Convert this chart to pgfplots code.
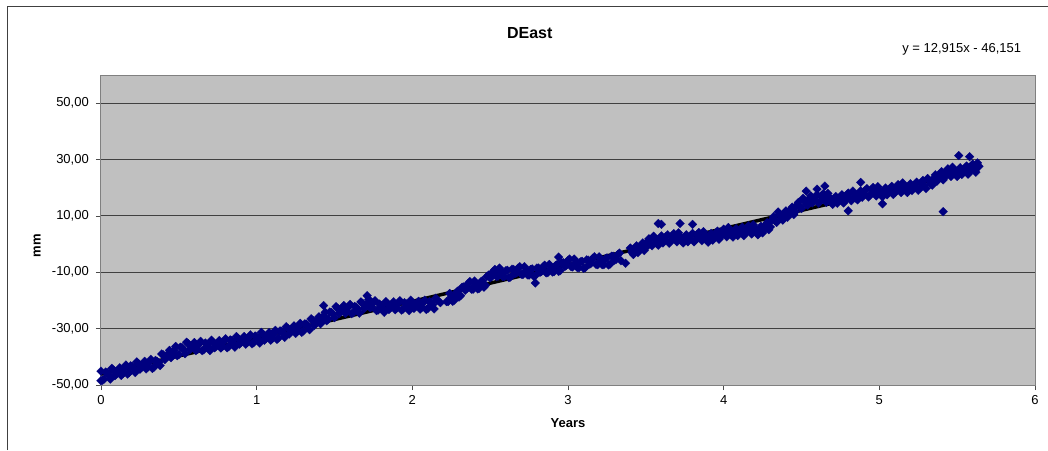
\documentclass[border=0pt]{standalone}
\usepackage{pgfplots}
\pgfplotsset{compat=1.18}
\usepackage{fontspec}
\setmainfont{Liberation Sans}
\definecolor{navy}{RGB}{0,0,128}
\definecolor{plotbg}{RGB}{192,192,192}
\begin{document}
\begin{tikzpicture}
\useasboundingbox (-101pt,-65pt) rectangle (947pt,385pt);
\draw[black!75, line width=0.8pt] (-94pt,-65pt) -- (-94pt,379pt) -- (947pt,379pt);
\begin{axis}[
  scale only axis, width=934pt, height=310pt,
  xmin=0, xmax=6, ymin=-50, ymax=60,
  clip=false,
  axis background/.style={fill=plotbg},
  xtick={0,1,2,3,4,5,6}, xticklabels={0,1,2,3,4,5,6},
  ytick={-50,-30,-10,10,30,50},
  yticklabels={{-50,00},{-30,00},{-10,00},{10,00},{30,00},{50,00}},
  xtick pos=left, ytick pos=left,
  tick align=outside, major tick length=5pt,
  tick style={black!70, line width=0.8pt},
  ymajorgrids, grid style={black!75, line width=0.9pt},
  axis line style={black!50, line width=1pt},
  ticklabel style={font=\fontsize{13}{15}\selectfont},
  yticklabel style={anchor=east, inner sep=0pt, xshift=-7pt},
  xticklabel style={anchor=north, inner sep=0pt, yshift=-5pt},
  title={DEast},
  title style={font=\fontsize{16}{18}\selectfont\bfseries, at={(axis description cs:0.459,1.115)}, anchor=center},
  xlabel={Years},
  xlabel style={font=\fontsize{13}{15}\selectfont\bfseries, at={(axis description cs:0.5,-0.1226)}, anchor=center},
  ylabel={mm},
  ylabel style={font=\fontsize{13}{15}\selectfont\bfseries, at={(axis description cs:-0.0685,0.45)}, anchor=center},
]
\addplot[only marks, mark=square*, mark size=3.1pt, mark options={draw=navy, fill=navy, rotate=45, line width=0.2pt}] coordinates {
(0.00,-45.1) (0.02,-47.9) (0.04,-45.7) (0.06,-47.9) (0.08,-44.7) (0.10,-46.1) (0.12,-43.9) (0.14,-45.9)
(0.16,-42.9) (0.18,-45.6) (0.20,-43.4) (0.22,-45.6) (0.24,-42.4) (0.26,-43.8) (0.28,-41.6) (0.30,-43.7)
(0.32,-40.9) (0.34,-43.7) (0.36,-41.6) (0.38,-43.1) (0.40,-39.3) (0.42,-40.0) (0.44,-37.7) (0.46,-39.5)
(0.48,-36.3) (0.50,-39.2) (0.52,-36.7) (0.54,-38.9) (0.56,-35.3) (0.58,-36.9) (0.60,-34.9) (0.62,-37.3)
(0.64,-34.5) (0.66,-37.5) (0.68,-35.5) (0.70,-37.8) (0.72,-34.8) (0.74,-36.2) (0.76,-34.2) (0.78,-36.3)
(0.80,-33.6) (0.82,-36.4) (0.84,-34.3) (0.86,-36.6) (0.88,-33.5) (0.90,-34.9) (0.92,-32.8) (0.94,-34.9)
(0.96,-32.2) (0.98,-35.0) (1.00,-32.9) (1.02,-35.1) (1.04,-32.0) (1.06,-33.5) (1.08,-31.4) (1.10,-33.5)
(1.12,-30.6) (1.14,-33.3) (1.16,-31.0) (1.18,-33.1) (1.20,-29.9) (1.22,-31.2) (1.24,-29.0) (1.26,-31.0)
(1.28,-28.1) (1.30,-30.8) (1.32,-28.4) (1.34,-30.4) (1.36,-27.0) (1.38,-28.2) (1.40,-25.8) (1.42,-27.5)
(1.44,-24.2) (1.46,-26.6) (1.48,-24.2) (1.50,-26.1) (1.52,-22.8) (1.54,-23.9) (1.56,-21.8) (1.58,-24.0)
(1.60,-21.4) (1.62,-24.4) (1.64,-22.4) (1.66,-24.5) (1.68,-21.0) (1.70,-22.1) (1.72,-19.6) (1.74,-22.3)
(1.76,-20.1) (1.78,-23.4) (1.80,-21.9) (1.82,-24.2) (1.84,-21.1) (1.86,-22.6) (1.88,-20.5) (1.90,-22.7)
(1.92,-20.1) (1.94,-23.1) (1.96,-21.2) (1.98,-23.6) (2.00,-20.7) (2.02,-22.2) (2.04,-20.3) (2.06,-22.5)
(2.08,-19.9) (2.10,-22.8) (2.12,-20.7) (2.14,-23.0) (2.16,-19.9) (2.18,-20.8) (2.22,-20.4) (2.24,-17.5)
(2.26,-20.3) (2.28,-17.4) (2.30,-18.8) (2.32,-15.3) (2.34,-16.4) (2.36,-13.9) (2.38,-16.0) (2.40,-13.1)
(2.42,-15.9) (2.44,-13.4) (2.46,-15.3) (2.48,-11.4) (2.50,-12.0) (2.52,-9.7) (2.54,-11.5) (2.56,-8.5)
(2.58,-11.5) (2.60,-9.5) (2.62,-11.9) (2.64,-8.9) (2.66,-10.5) (2.68,-8.5) (2.70,-10.7) (2.72,-8.0)
(2.74,-10.9) (2.76,-9.0) (2.78,-11.4) (2.80,-8.5) (2.82,-10.0) (2.84,-8.1) (2.86,-10.2) (2.88,-7.2)
(2.90,-9.9) (2.92,-7.6) (2.94,-9.7) (2.96,-6.6) (2.98,-7.9) (3.00,-5.8) (3.02,-8.0) (3.04,-5.3)
(3.06,-8.3) (3.08,-6.3) (3.10,-8.6) (3.12,-5.6) (3.14,-7.1) (3.16,-5.0) (3.18,-7.2) (3.20,-4.5)
(3.22,-7.3) (3.24,-5.2) (3.26,-7.4) (3.28,-4.3) (3.30,-5.7) (3.32,-3.7) (3.34,-5.9) (3.37,-6.8)
(3.40,-1.4) (3.42,-3.7) (3.44,-0.6) (3.46,-2.1) (3.48,0.4) (3.50,-1.3) (3.52,1.9) (3.54,-0.6)
(3.56,1.7) (3.58,-0.4) (3.60,2.9) (3.62,1.4) (3.64,3.3) (3.66,1.1) (3.68,3.7) (3.70,0.8)
(3.72,2.7) (3.74,0.4) (3.76,3.3) (3.78,1.8) (3.80,3.8) (3.82,1.5) (3.84,4.1) (3.86,1.2)
(3.88,3.1) (3.90,0.7) (3.92,3.8) (3.94,2.5) (3.96,4.6) (3.98,2.5) (4.00,5.3) (4.02,2.6)
(4.04,4.7) (4.06,2.5) (4.08,5.5) (4.10,4.0) (4.12,6.0) (4.14,3.8) (4.16,6.5) (4.18,3.6)
(4.20,5.6) (4.22,3.3) (4.24,6.3) (4.26,5.1) (4.28,7.7) (4.30,6.1) (4.32,9.7) (4.34,7.7)
(4.36,10.6) (4.38,8.5) (4.40,11.8) (4.42,10.5) (4.44,13.1) (4.46,11.5) (4.48,14.8) (4.50,12.6)
(4.52,15.3) (4.54,13.8) (4.56,17.1) (4.58,15.5) (4.60,17.5) (4.62,15.3) (4.64,17.9) (4.66,14.8)
(4.68,16.6) (4.70,14.1) (4.72,16.9) (4.74,15.5) (4.76,17.5) (4.78,15.4) (4.80,18.1) (4.82,15.4)
(4.84,17.7) (4.86,15.7) (4.88,18.9) (4.90,17.7) (4.92,19.7) (4.94,17.4) (4.96,20.1) (4.98,17.1)
(5.00,19.1) (5.02,16.8) (5.04,19.9) (5.06,18.4) (5.08,20.5) (5.10,18.3) (5.12,21.1) (5.14,18.3)
(5.16,20.5) (5.18,18.3) (5.20,21.4) (5.22,19.9) (5.24,22.0) (5.26,19.8) (5.28,22.6) (5.30,19.7)
(5.32,22.4) (5.34,20.9) (5.36,24.6) (5.38,23.4) (5.40,25.7) (5.42,23.7) (5.44,26.7) (5.46,24.0)
(5.48,26.1) (5.50,24.0) (5.52,27.1) (5.54,25.6) (5.56,27.7) (5.58,25.6) (5.60,28.4) (5.62,25.5)
(5.64,27.6)
(0.01,-48.3) (0.03,-45.4) (0.05,-46.4) (0.07,-44.1) (0.09,-46.7) (0.11,-45.2) (0.13,-46.6) (0.15,-44.0)
(0.17,-46.1) (0.19,-43.2) (0.21,-44.1) (0.23,-41.8) (0.25,-44.4) (0.27,-42.9) (0.29,-44.3) (0.31,-41.9)
(0.33,-44.1) (0.35,-41.3) (0.37,-42.0) (0.39,-39.0) (0.41,-41.0) (0.43,-39.0) (0.45,-40.3) (0.47,-37.6)
(0.49,-39.6) (0.51,-36.6) (0.53,-37.4) (0.55,-34.8) (0.57,-37.5) (0.59,-36.1) (0.61,-37.8) (0.63,-35.5)
(0.65,-37.8) (0.67,-35.1) (0.69,-36.3) (0.71,-34.1) (0.73,-36.8) (0.75,-35.4) (0.77,-36.9) (0.79,-34.6)
(0.81,-36.8) (0.83,-34.0) (0.85,-35.1) (0.87,-32.8) (0.89,-35.5) (0.91,-34.0) (0.93,-35.5) (0.95,-33.2)
(0.97,-35.4) (0.99,-32.6) (1.01,-33.6) (1.03,-31.3) (1.05,-34.1) (1.07,-32.6) (1.09,-34.1) (1.11,-31.7)
(1.13,-33.8) (1.15,-30.8) (1.17,-31.7) (1.19,-29.3) (1.21,-31.9) (1.23,-30.3) (1.25,-31.7) (1.27,-29.2)
(1.29,-31.3) (1.31,-28.3) (1.33,-29.0) (1.35,-26.5) (1.37,-28.9) (1.39,-27.2) (1.41,-28.3) (1.43,-25.5)
(1.45,-27.2) (1.47,-24.1) (1.49,-24.8) (1.51,-22.2) (1.53,-24.7) (1.55,-23.0) (1.57,-24.6) (1.59,-22.3)
(1.61,-24.7) (1.63,-22.1) (1.65,-23.1) (1.67,-20.5) (1.69,-22.9) (1.71,-21.0) (1.73,-22.6) (1.75,-20.8)
(1.77,-23.6) (1.79,-21.3) (1.81,-22.7) (1.83,-20.4) (1.85,-23.2) (1.87,-21.7) (1.89,-23.3) (1.91,-21.0)
(1.93,-23.4) (1.95,-20.8) (1.97,-22.0) (1.99,-19.9) (2.01,-22.8) (2.03,-21.4) (2.05,-23.1) (2.07,-20.8)
(2.09,-23.2) (2.11,-20.4) (2.13,-21.5) (2.15,-19.2) (2.23,-20.4) (2.25,-18.8) (2.27,-19.9) (2.29,-16.7)
(2.31,-18.3) (2.33,-15.2) (2.35,-15.8) (2.37,-13.3) (2.39,-16.0) (2.41,-14.4) (2.43,-15.7) (2.45,-13.0)
(2.47,-14.6) (2.49,-11.0) (2.51,-11.5) (2.53,-9.0) (2.55,-11.4) (2.57,-9.9) (2.59,-11.6) (2.61,-9.3)
(2.63,-11.7) (2.65,-9.0) (2.67,-10.2) (2.69,-8.0) (2.71,-10.8) (2.73,-9.4) (2.75,-11.0) (2.77,-8.8)
(2.79,-11.2) (2.81,-8.5) (2.83,-9.7) (2.85,-7.5) (2.87,-10.1) (2.89,-8.5) (2.91,-9.8) (2.93,-7.3)
(2.95,-9.4) (2.97,-6.6) (2.99,-7.5) (3.01,-5.3) (3.03,-8.1) (3.05,-6.7) (3.07,-8.4) (3.09,-6.1)
(3.11,-8.4) (3.13,-5.7) (3.15,-6.7) (3.17,-4.5) (3.19,-7.3) (3.21,-5.8) (3.23,-7.3) (3.25,-4.9)
(3.27,-7.1) (3.29,-4.3) (3.31,-5.4) (3.33,-3.2) (3.41,-2.9) (3.43,-1.5) (3.45,-3.0) (3.47,-0.5)
(3.49,-2.3) (3.51,0.9) (3.53,0.2) (3.55,2.8) (3.57,0.2) (3.59,1.9) (3.61,0.4) (3.63,2.7)
(3.65,0.3) (3.67,3.0) (3.69,1.8) (3.71,4.0) (3.73,1.1) (3.75,2.5) (3.77,0.8) (3.79,3.1)
(3.81,0.8) (3.83,3.4) (3.85,2.2) (3.87,4.4) (3.89,1.5) (3.91,2.9) (3.93,1.4) (3.95,3.9)
(3.97,1.7) (3.99,4.5) (4.01,3.6) (4.03,5.9) (4.05,3.2) (4.07,4.6) (4.09,3.0) (4.11,5.3)
(4.13,3.0) (4.15,5.7) (4.17,4.7) (4.19,6.9) (4.21,4.1) (4.23,5.5) (4.25,4.0) (4.27,6.8)
(4.29,5.1) (4.31,8.5) (4.33,8.3) (4.35,11.4) (4.37,9.2) (4.39,10.8) (4.41,9.5) (4.43,12.2)
(4.45,10.5) (4.47,13.8) (4.49,13.3) (4.51,16.2) (4.53,14.2) (4.55,16.1) (4.57,14.6) (4.59,16.9)
(4.61,14.5) (4.63,17.2) (4.65,16.0) (4.67,18.0) (4.69,15.0) (4.71,16.2) (4.73,14.5) (4.75,16.8)
(4.77,14.6) (4.79,17.4) (4.81,16.4) (4.83,18.8) (4.85,16.3) (4.87,18.0) (4.89,16.6) (4.91,19.1)
(4.93,16.7) (4.95,19.4) (4.97,18.2) (4.99,20.4) (5.01,17.6) (5.03,19.0) (5.05,17.5) (5.07,19.8)
(5.09,17.6) (5.11,20.3) (5.13,19.3) (5.15,21.7) (5.17,19.0) (5.19,20.5) (5.21,19.0) (5.23,21.3)
(5.25,19.1) (5.27,21.8) (5.29,20.8) (5.31,23.3) (5.33,21.3) (5.35,23.4) (5.37,22.3) (5.39,24.9)
(5.41,22.8) (5.43,25.8) (5.45,25.0) (5.47,27.3) (5.49,24.7) (5.51,26.2) (5.53,24.7) (5.55,27.0)
(5.57,24.8) (5.59,27.6) (5.61,26.6) (5.63,28.8)
(0.00,-48.5) (1.43,-21.8) (1.71,-18.3) (2.79,-13.8) (2.94,-4.6) (3.58,7.3) (3.60,7.0) (3.72,7.3)
(3.80,7.0) (4.53,18.8) (4.60,19.5) (4.65,20.6) (4.80,11.8) (4.88,21.9) (5.02,14.3) (5.41,11.5)
(5.51,31.4) (5.58,31.0)
};
\addplot[black, line width=3.5pt] coordinates {(0,-46.151) (5.64,26.690)};
\node[anchor=east, font=\fontsize{13}{15}\selectfont] at (axis description cs:0.989,1.083) {y = 12,915x - 46,151};
\end{axis}
\end{tikzpicture}
\end{document}
